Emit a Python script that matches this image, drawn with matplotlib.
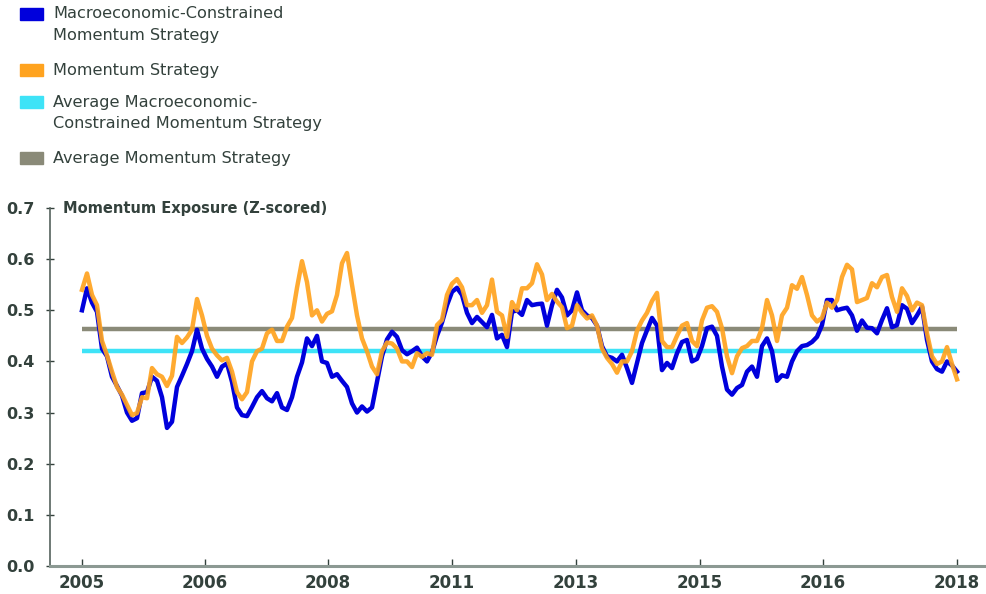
import numpy as np
import matplotlib
matplotlib.use('Agg')
import matplotlib.pyplot as plt
from matplotlib.patches import Rectangle

# series values (one value per step)
macro = [0.500, 0.543, 0.515, 0.497, 0.425, 0.410, 0.370, 0.352, 0.333, 0.300,
         0.284, 0.289, 0.338, 0.340, 0.370, 0.362, 0.330, 0.270, 0.282, 0.350,
         0.372, 0.395, 0.420, 0.462, 0.425, 0.405, 0.390, 0.370, 0.390, 0.396,
         0.360, 0.310, 0.295, 0.293, 0.311, 0.330, 0.342, 0.328, 0.322, 0.338,
         0.310, 0.305, 0.330, 0.370, 0.398, 0.445, 0.430, 0.450, 0.400, 0.397,
         0.370, 0.375, 0.362, 0.350, 0.318, 0.300, 0.312, 0.302, 0.310, 0.360,
         0.410, 0.443, 0.458, 0.448, 0.422, 0.414, 0.420, 0.427, 0.410, 0.400,
         0.418, 0.450, 0.476, 0.510, 0.536, 0.544, 0.530, 0.495, 0.475, 0.487,
         0.477, 0.467, 0.491, 0.445, 0.452, 0.428, 0.497, 0.500, 0.491, 0.520,
         0.510, 0.512, 0.513, 0.470, 0.510, 0.540, 0.525, 0.490, 0.500, 0.535,
         0.500, 0.490, 0.485, 0.470, 0.430, 0.410, 0.407, 0.400, 0.413, 0.387,
         0.358, 0.397, 0.436, 0.461, 0.485, 0.470, 0.383, 0.397, 0.387, 0.416,
         0.438, 0.442, 0.400, 0.405, 0.430, 0.465, 0.468, 0.450, 0.390, 0.345,
         0.335, 0.348, 0.354, 0.380, 0.390, 0.370, 0.430, 0.445, 0.420, 0.362,
         0.373, 0.370, 0.400, 0.420, 0.430, 0.432, 0.438, 0.448, 0.471, 0.520,
         0.520, 0.500, 0.503, 0.505, 0.490, 0.460, 0.480, 0.466, 0.465, 0.455,
         0.481, 0.504, 0.467, 0.471, 0.510, 0.503, 0.475, 0.490, 0.507, 0.442,
         0.400, 0.385, 0.380, 0.400, 0.392, 0.380]

momentum = [0.540, 0.572, 0.530, 0.510, 0.440, 0.412, 0.380, 0.350, 0.335, 0.315,
            0.295, 0.299, 0.330, 0.328, 0.387, 0.375, 0.370, 0.352, 0.372, 0.448,
            0.436, 0.447, 0.462, 0.522, 0.490, 0.450, 0.425, 0.412, 0.402, 0.407,
            0.380, 0.340, 0.326, 0.340, 0.400, 0.420, 0.425, 0.455, 0.462, 0.440,
            0.440, 0.468, 0.485, 0.544, 0.596, 0.555, 0.490, 0.500, 0.478, 0.493,
            0.498, 0.530, 0.592, 0.612, 0.550, 0.490, 0.445, 0.420, 0.390, 0.375,
            0.420, 0.437, 0.435, 0.425, 0.400, 0.400, 0.389, 0.416, 0.409, 0.416,
            0.413, 0.471, 0.481, 0.530, 0.552, 0.561, 0.545, 0.510, 0.510, 0.520,
            0.495, 0.510, 0.560, 0.497, 0.490, 0.448, 0.516, 0.500, 0.543, 0.543,
            0.553, 0.590, 0.570, 0.520, 0.532, 0.517, 0.506, 0.465, 0.470, 0.510,
            0.495, 0.484, 0.490, 0.470, 0.425, 0.407, 0.395, 0.378, 0.400, 0.400,
            0.420, 0.460, 0.480, 0.495, 0.518, 0.534, 0.440, 0.428, 0.428, 0.450,
            0.470, 0.475, 0.440, 0.430, 0.480, 0.505, 0.508, 0.497, 0.465, 0.410,
            0.377, 0.410, 0.426, 0.430, 0.440, 0.440, 0.465, 0.520, 0.490, 0.440,
            0.490, 0.505, 0.549, 0.542, 0.565, 0.530, 0.490, 0.478, 0.485, 0.515,
            0.505, 0.520, 0.565, 0.589, 0.580, 0.516, 0.520, 0.524, 0.553, 0.545,
            0.565, 0.569, 0.526, 0.497, 0.543, 0.528, 0.500, 0.515, 0.510, 0.455,
            0.410, 0.395, 0.400, 0.428, 0.395, 0.365]

avg_macro = 0.420
avg_momentum = 0.463

tick_labels = ['2005', '2006', '2008', '2011', '2013', '2015', '2016', '2018']
tick_steps = [0, 24.6, 49.2, 74, 98.8, 123.6, 148.2, 175]

legend_labels = ['Macroeconomic-Constrained\nMomentum Strategy',
                 'Momentum Strategy',
                 'Average Macroeconomic-\nConstrained Momentum Strategy',
                 'Average Momentum Strategy']

c_blue = '#0000dc'
c_orange = '#ffa31f'
c_cyan = '#3ee3f7'
c_gray = '#8a8a78'
c_text = '#33413c'

x = np.arange(len(macro))

fig = plt.figure(figsize=(9.87, 5.94), dpi=100)
ax = fig.add_axes([50/987, 28/594, 937/987, 358/594])

ax.plot([x[0], x[-1]], [avg_momentum, avg_momentum], color=c_gray, lw=3.2, solid_capstyle='butt', zorder=2)
ax.plot([x[0], x[-1]], [avg_macro, avg_macro], color=c_cyan, lw=3.2, solid_capstyle='butt', zorder=2)
ax.plot(x, macro, color=c_blue, lw=3.2, zorder=3)
ax.plot(x, momentum, color=c_orange, lw=3.2, alpha=0.92, zorder=4)

ax.set_xlim(-6.4, 181)
ax.set_ylim(0, 0.7)
ax.set_yticks(np.arange(0, 0.71, 0.1))
ax.set_yticklabels(['%.1f' % v for v in np.arange(0, 0.71, 0.1)],
                   fontsize=11.5, fontweight='bold', color=c_text, family='DejaVu Sans')
ax.set_xticks(tick_steps)
ax.set_xticklabels(tick_labels, fontsize=12, fontweight='bold', color=c_text,
                   family='Liberation Sans Narrow')
ax.tick_params(axis='y', direction='inout', length=6, width=1, color=c_text, pad=8)
ax.tick_params(axis='x', direction='in', length=5, width=1, color=c_text, pad=6)

for s in ['top', 'right']:
    ax.spines[s].set_visible(False)
ax.spines['left'].set_color('#55625d')
ax.spines['left'].set_linewidth(1.2)
ax.spines['bottom'].set_color('#8c9993')
ax.spines['bottom'].set_linewidth(2.2)

# chart subtitle sits level with the 0.7 tick
ax.text(13/937, 0.7, 'Momentum Exposure (Z-scored)', transform=ax.get_yaxis_transform(),
        fontsize=10.5, fontweight='bold', color=c_text, va='center', ha='left')

# legend at the top left
colors = [c_blue, c_orange, c_cyan, c_gray]
tops = [14, 70, 102, 158]
for col, lab, ty in zip(colors, legend_labels, tops):
    fig.patches.append(Rectangle((20/987, 1 - (ty + 6)/594), 23/987, 12/594,
                                 transform=fig.transFigure, color=col))
    fig.text(53/987, 1 - (ty - 7.5)/594, lab, fontsize=11.6, color=c_text,
             va='top', ha='left', linespacing=1.55)

plt.savefig('out.png', dpi=100)
